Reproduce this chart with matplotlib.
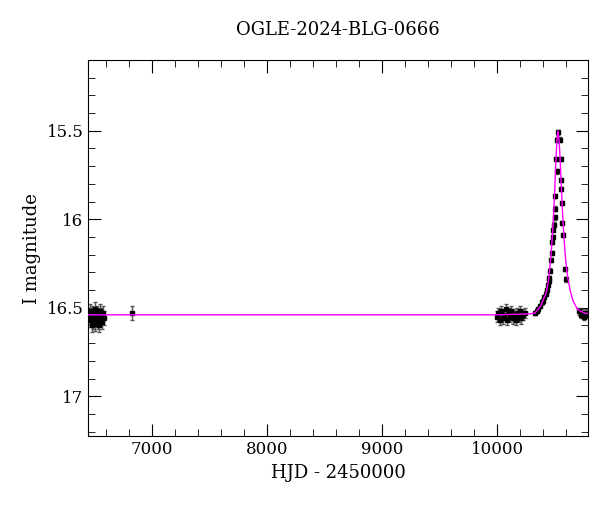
import matplotlib
matplotlib.use("Agg")
import matplotlib.pyplot as plt
import matplotlib.ticker as mticker

# observations (HJD - 2450000, I mag, error)
obs_t = [
    6455, 6462, 6468, 6475, 6480, 6486, 6492, 6498, 6503, 6510, 6515, 6522,
    6528, 6534, 6540, 6546, 6552, 6558, 6565, 6572, 6578, 6820,
    10000, 10012, 10025, 10038, 10050, 10062, 10075, 10088, 10100, 10112,
    10125, 10138, 10150, 10162, 10175, 10188, 10200, 10212, 10225, 10240,
    10330, 10350, 10360, 10375, 10389, 10400, 10412, 10422, 10432, 10440,
    10448, 10455, 10462, 10470, 10476, 10481, 10486, 10490, 10495, 10501,
    10504, 10507, 10513, 10519, 10524, 10530, 10548, 10554, 10554, 10559,
    10565, 10565, 10577, 10588, 10600,
    10715, 10730, 10745, 10760, 10775, 10790,
]
obs_mag = [
    16.52, 16.57, 16.55, 16.60, 16.53, 16.58, 16.56, 16.51, 16.59, 16.54, 16.57, 16.53,
    16.58, 16.55, 16.60, 16.52, 16.56, 16.54, 16.58, 16.53, 16.56, 16.53,
    16.55, 16.53, 16.57, 16.52, 16.56, 16.54, 16.51, 16.57, 16.53, 16.55,
    16.52, 16.56, 16.54, 16.57, 16.53, 16.55, 16.52, 16.56, 16.54, 16.53,
    16.53, 16.52, 16.51, 16.49, 16.47, 16.46, 16.44, 16.42, 16.40, 16.37,
    16.35, 16.33, 16.29, 16.23, 16.19, 16.13, 16.10, 16.06, 16.03, 15.99,
    15.94, 15.87, 15.66, 15.73, 15.55, 15.51, 15.55, 15.66, 15.78, 15.83,
    15.91, 16.02, 16.09, 16.28, 16.34,
    16.52, 16.54, 16.53, 16.55, 16.53, 16.54,
]
obs_err = [0.04] * 22 + [0.03] * 20 + [0.012] * 35 + [0.02] * 6

# microlensing model curve
model_t = [6440, 10000, 10280, 10330, 10380, 10430, 10450, 10470, 10480, 10490,
           10500, 10510, 10520, 10530, 10540, 10550, 10560, 10570, 10580, 10590,
           10600, 10615, 10635, 10660, 10700, 10760, 10800]
model_mag = [16.54, 16.54, 16.535, 16.53, 16.49, 16.41, 16.33, 16.20, 16.10, 16.00,
             15.86, 15.70, 15.56, 15.50, 15.56, 15.68, 15.83, 15.97, 16.08, 16.18,
             16.25, 16.33, 16.40, 16.46, 16.51, 16.53, 16.535]

plt.rcParams["font.family"] = "DejaVu Serif"
fig = plt.figure(figsize=(6, 5.12), dpi=100)
ax = fig.add_axes([0.147, 0.148, 0.833, 0.735])

ax.plot(model_t, model_mag, color="#ff00ff", lw=1, zorder=3)
ax.errorbar(obs_t, obs_mag, yerr=obs_err, fmt="s", ms=3.5, color="black",
            ecolor="#555555", elinewidth=1, capsize=1.5, zorder=2)

ax.set_xlim(6443, 10791)
ax.set_ylim(17.226, 15.10)
ax.xaxis.set_major_locator(mticker.MultipleLocator(1000))
ax.xaxis.set_minor_locator(mticker.MultipleLocator(200))
ax.yaxis.set_major_locator(mticker.MultipleLocator(0.5))
ax.yaxis.set_minor_locator(mticker.MultipleLocator(0.1))
ax.yaxis.set_major_formatter(mticker.FuncFormatter(lambda v, p: f"{v:g}"))
ax.tick_params(which="both", direction="in", top=True, right=True, labelsize=12)
ax.tick_params(which="major", length=9)
ax.tick_params(which="minor", length=5)

ax.set_xlabel("HJD - 2450000", fontsize=13)
ax.set_ylabel("I magnitude", fontsize=13)
ax.set_title("OGLE-2024-BLG-0666", fontsize=13, pad=18)

fig.savefig("out.png")
